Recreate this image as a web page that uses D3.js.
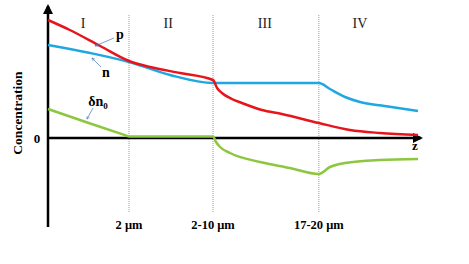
<!DOCTYPE html>
<html>
<head>
<meta charset="utf-8">
<script src="https://cdn.jsdelivr.net/npm/d3@7"></script>
<style>
 body { margin: 0; background: #fff; }
 text { font-family: "Liberation Serif", "Times New Roman", serif; }
</style>
</head>
<body>
<div id="chart"></div>
<script>
// position along z (arbitrary units) and concentration (arbitrary units)
const boundaries = [21.9, 44.6, 73.2];
const boundaryLabels = ["2 \u03bcm", "2-10 \u03bcm", "17-20 \u03bcm"];
const regions = ["I", "II", "III", "IV"];
const regionCenters = [9.5, 32.5, 58.6, 84.3];

const pZ = [0, 5.9, 14.1, 21.9, 27.6, 35.7, 44.6, 45.7, 47.0, 49.7, 52.4, 57.8, 63.2, 73.2, 81.6, 89.7, 100];
const pV = [118, 108, 92, 77, 71, 65, 58, 50, 45, 39, 35, 28, 24, 15, 8, 5, 3];

const nZ = [0, 11.4, 21.9, 33.0, 44.6, 73.2, 76.2, 80.3, 84.3, 91.0, 100];
const nV = [93, 85, 76, 63, 55, 55, 49, 41, 36, 32, 27];

const dnZ = [0, 11.0, 21.0, 21.9, 44.6, 45.4, 46.5, 49.2, 57.3, 65.4, 73.2, 76.2, 80.3, 89.7, 100];
const dnV = [29, 15, 2.6, 1.5, 1.5, -4, -9, -15, -24, -30, -36, -29, -25, -22, -21];

const width = 469, height = 264;

const svg = d3.select("#chart").append("svg")
 .attr("width", width)
 .attr("height", height);

const x = d3.scaleLinear().domain([0, 100]).range([48, 418]);
const y = d3.scaleLinear().domain([-89, 130]).range([227, 8]);

// arrow markers
const defs = svg.append("defs");
defs.append("marker")
 .attr("id", "axArrow")
 .attr("viewBox", "0 0 10 10")
 .attr("refX", 8).attr("refY", 5)
 .attr("markerWidth", 4).attr("markerHeight", 4)
 .attr("markerUnits", "strokeWidth")
 .attr("orient", "auto")
 .append("path").attr("d", "M0,0L10,5L0,10z").attr("fill", "#000");
defs.append("marker")
 .attr("id", "leadArrow")
 .attr("viewBox", "0 0 10 10")
 .attr("refX", 9).attr("refY", 5)
 .attr("markerWidth", 5).attr("markerHeight", 5)
 .attr("markerUnits", "strokeWidth")
 .attr("orient", "auto")
 .append("path").attr("d", "M0,1L10,5L0,9").attr("fill", "none").attr("stroke", "#3b78c4").attr("stroke-width", 1.5);

// region separators
svg.append("g").selectAll("line")
 .data(boundaries)
 .enter().append("line")
 .attr("x1", d => x(d)).attr("x2", d => x(d))
 .attr("y1", 15).attr("y2", 213)
 .attr("stroke", "#999")
 .attr("stroke-width", 1)
 .attr("stroke-dasharray", "1,1");

svg.append("g").selectAll("text")
 .data(boundaries)
 .enter().append("text")
 .attr("x", d => x(d))
 .attr("y", 229)
 .attr("text-anchor", "middle")
 .attr("font-size", 12.5)
 .attr("font-weight", "bold")
 .text((d, i) => boundaryLabels[i]);

svg.append("g").selectAll("text")
 .data(regions)
 .enter().append("text")
 .attr("x", (d, i) => x(regionCenters[i]))
 .attr("y", 28)
 .attr("text-anchor", "middle")
 .attr("font-size", 14)
 .attr("fill", "#222")
 .text(d => d);

// axes
svg.append("line")
 .attr("x1", x(0)).attr("x2", x(0))
 .attr("y1", y(-89)).attr("y2", 6)
 .attr("stroke", "#000").attr("stroke-width", 2.5)
 .attr("marker-end", "url(#axArrow)");
svg.append("line")
 .attr("x1", x(0)).attr("x2", 421)
 .attr("y1", y(0)).attr("y2", y(0))
 .attr("stroke", "#000").attr("stroke-width", 2.5)
 .attr("marker-end", "url(#axArrow)");

svg.append("text")
 .attr("x", 37).attr("y", y(0) + 5)
 .attr("text-anchor", "middle")
 .attr("font-size", 13).attr("font-weight", "bold")
 .text("0");
svg.append("text")
 .attr("x", 415).attr("y", y(0) + 12)
 .attr("text-anchor", "middle")
 .attr("font-size", 13).attr("font-weight", "bold")
 .text("z");
svg.append("text")
 .attr("transform", `translate(22,${113}) rotate(-90)`)
 .attr("text-anchor", "middle")
 .attr("font-size", 13.5).attr("font-weight", "bold")
 .text("Concentration");

// curves
const line = d3.line()
 .x(d => x(d[0]))
 .y(d => y(d[1]))
 .curve(d3.curveMonotoneX);

const series = [
 { z: dnZ, v: dnV, color: "#8dc63f" },
 { z: nZ, v: nV, color: "#1ea7e1" },
 { z: pZ, v: pV, color: "#e8141b" }
];

svg.append("g").selectAll("path")
 .data(series)
 .enter().append("path")
 .attr("d", d => line(d.z.map((z, i) => [z, d.v[i]])))
 .attr("fill", "none")
 .attr("stroke", d => d.color)
 .attr("stroke-width", 2.5);

// curve labels with leader lines
const labels = [
 { text: "p", tx: 120, ty: 39, from: [114, 38], to: [95, 46] },
 { text: "n", tx: 106, ty: 77, from: [101, 67], to: [92, 58] },
 { text: "\u03b4n", sub: "0", tx: 98, ty: 106, from: [93, 108], to: [87, 119] }
];

svg.append("g").selectAll("line")
 .data(labels)
 .enter().append("line")
 .attr("x1", d => d.from[0]).attr("y1", d => d.from[1])
 .attr("x2", d => d.to[0]).attr("y2", d => d.to[1])
 .attr("stroke", "#3b78c4")
 .attr("stroke-width", 0.7)
 .attr("marker-end", "url(#leadArrow)");

const lt = svg.append("g").selectAll("text")
 .data(labels)
 .enter().append("text")
 .attr("x", d => d.tx).attr("y", d => d.ty)
 .attr("text-anchor", "middle")
 .attr("font-size", 14).attr("font-weight", "bold");
lt.append("tspan").text(d => d.text);
lt.filter(d => d.sub).append("tspan")
 .attr("font-size", 9).attr("dy", 3)
 .text(d => d.sub);
</script>
</body>
</html>
